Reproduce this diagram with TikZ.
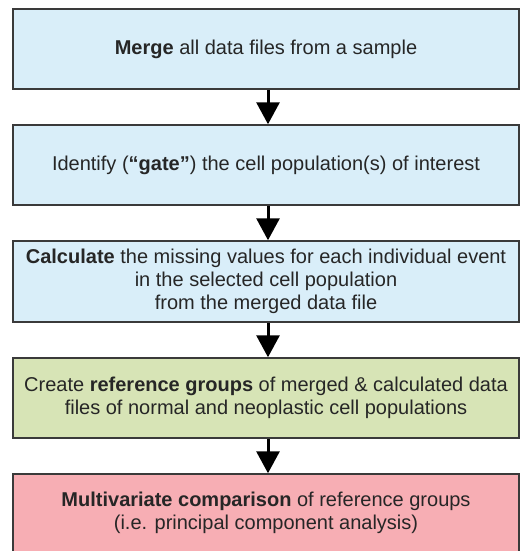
\documentclass[tikz,border=0pt]{standalone}
\usepackage{fontspec}
\setmainfont{Liberation Sans}
\usetikzlibrary{arrows.meta}
\definecolor{boxblue}{HTML}{D9EEF9}
\definecolor{boxgreen}{HTML}{D7E4B6}
\definecolor{boxpink}{HTML}{F7AEB4}
\definecolor{boxline}{HTML}{3A3A3A}
\begin{document}
\begin{tikzpicture}[x=1pt,y=-1pt,
  stepbox/.style={draw=boxline, line width=1.5pt, minimum width=506pt, inner sep=0pt,
    align=center, font=\fontsize{20}{23}\selectfont, text=black!85},
  flow/.style={line width=3pt, -{Triangle[length=22pt,width=23pt]}, shorten >=0pt}]
\useasboundingbox (0,0) rectangle (521,551);
\node[stepbox, fill=boxblue, minimum height=80pt] (a) at (266,49) {\textbf{Merge} all data files from a sample};
\node[stepbox, fill=boxblue, minimum height=80pt] (b) at (266,165) {Identify (\textbf{“gate”}) the cell population(s) of interest};
\node[stepbox, fill=boxblue, minimum height=81pt] (c) at (266,281.5) {\textbf{Calculate} the missing values for each individual event\\in the selected cell population\\from the merged data file};
\node[stepbox, fill=boxgreen, minimum height=80pt] (d) at (266,398) {Create \textbf{reference groups} of merged \& calculated data\\files of normal and neoplastic cell populations};
\node[stepbox, fill=boxpink, minimum height=78pt] (e) at (266,513) {\textbf{Multivariate comparison} of reference groups\\(i.e. principal component analysis)};
\draw[flow] (a.south -| 268,0) -- (b.north -| 268,0);
\draw[flow] (b.south -| 268,0) -- (c.north -| 268,0);
\draw[flow] (c.south -| 268,0) -- (d.north -| 268,0);
\draw[flow] (d.south -| 268,0) -- (e.north -| 268,0);
\end{tikzpicture}
\end{document}
